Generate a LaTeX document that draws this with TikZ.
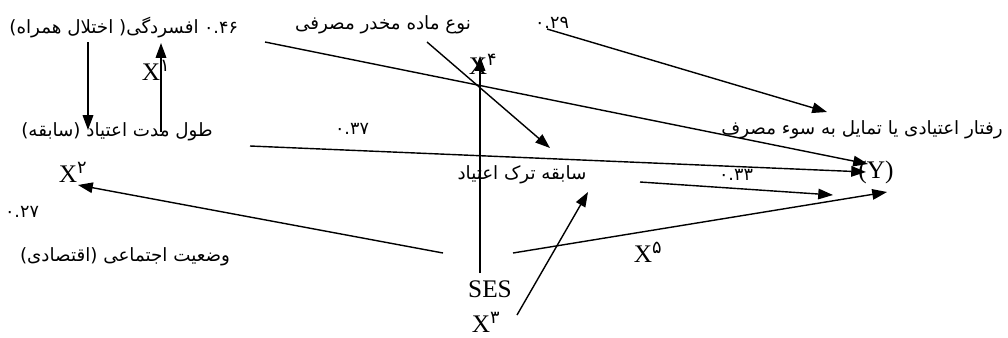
\documentclass[tikz,border=0pt]{standalone}
\usepackage{fontspec}
\setmainfont{Liberation Serif}
\newfontfamily\farsi[Script=Arabic]{DejaVu Sans}
\TeXXeTstate=1
\usetikzlibrary{arrows.meta,positioning}
\newcommand{\xvar}[1]{X\textsuperscript{\farsi #1}}

\begin{document}
\begin{tikzpicture}[
        x=0.025cm, y=-0.025cm,
        label/.style={inner sep=0pt, font=\farsi\fontsize{13}{15}\selectfont},
        coef/.style={inner sep=0pt, font=\farsi\fontsize{12.5}{14}\selectfont},
        latin/.style={inner sep=0pt, font=\fontsize{18}{20}\selectfont},
        arrowstyle/.style={-{Triangle[length=10.5pt,width=7.5pt]}, line width=1pt}
    ]
        \useasboundingbox (0,0) rectangle (1008,337);

        \node[label] (depression) at (104,28) {\beginR افسردگی( اختلال همراه)\endR};
        \node[coef] (c46) at (221,28) {۰.۴۶};
        \node[latin] (x1) at (156,70) {\xvar{۱}};
        \node[label] (duration) at (117,132) {\beginR طول مدت اعتیاد (سابقه)\endR};
        \node[latin] (x2) at (73,172) {\xvar{۲}};
        \node[coef] (c27) at (22,212) {۰.۲۷};
        \node[label] (status) at (125,257) {\beginR وضعیت اجتماعی (اقتصادی)\endR};
        \node[label] (drug) at (383,25) {\beginR نوع ماده مخدر مصرفی\endR};
        \node[coef] (c29) at (552,23) {۰.۲۹};
        \node[latin] (x4) at (483,64) {\xvar{۴}};
        \node[coef] (c37) at (352,129) {۰.۳۷};
        \node[label] (retention) at (522,175) {\beginR سابقه ترک اعتیاد\endR};
        \node[latin] (ses) at (490,289) {SES};
        \node[latin] (x3) at (486,322) {\xvar{۳}};
        \node[latin] (x5) at (648,252) {\xvar{۵}};
        \node[label] (behavior) at (862,130) {\beginR رفتار اعتیادی یا تمایل به سوء مصرف\endR};
        \node[latin] (y) at (876,172) {(Y)};
        \node[coef] (c33) at (736,175) {۰.۳۳};

        \coordinate (dep-out) at (88,42);
        \coordinate (dur-in) at (88,130);
        \coordinate (dur-out) at (161,132);
        \coordinate (dep-in) at (161,43);
        \coordinate (dep-y) at (265,42);
        \coordinate (y-top) at (868,164);
        \coordinate (c29-out) at (547,29);
        \coordinate (beh-in) at (827,112);
        \coordinate (dur-y) at (250,146);
        \coordinate (y-mid) at (866,172);
        \coordinate (ret-y) at (640,182);
        \coordinate (y-low) at (833,195);
        \coordinate (ses-y) at (513,253);
        \coordinate (y-bot) at (887,192);
        \coordinate (ses-x2) at (443,253);
        \coordinate (x2-in) at (78,185);
        \coordinate (ses-up) at (480,273);
        \coordinate (x4-in) at (480,56);
        \coordinate (drug-out) at (427,42);
        \coordinate (ret-in) at (550,148);
        \coordinate (x3-out) at (517,315);
        \coordinate (ret-low) at (588,192);

        \draw[arrowstyle] (dep-out) -- (dur-in);
        \draw[arrowstyle] (dur-out) -- (dep-in);
        \draw[arrowstyle] (dep-y) -- (y-top);
        \draw[arrowstyle] (c29-out) -- (beh-in);
        \draw[arrowstyle] (dur-y) -- (y-mid);
        \draw[arrowstyle] (ret-y) -- (y-low);
        \draw[arrowstyle] (ses-y) -- (y-bot);
        \draw[arrowstyle] (ses-x2) -- (x2-in);
        \draw[arrowstyle] (ses-up) -- (x4-in);
        \draw[arrowstyle] (drug-out) -- (ret-in);
        \draw[arrowstyle] (x3-out) -- (ret-low);
    \end{tikzpicture}
\end{document}
